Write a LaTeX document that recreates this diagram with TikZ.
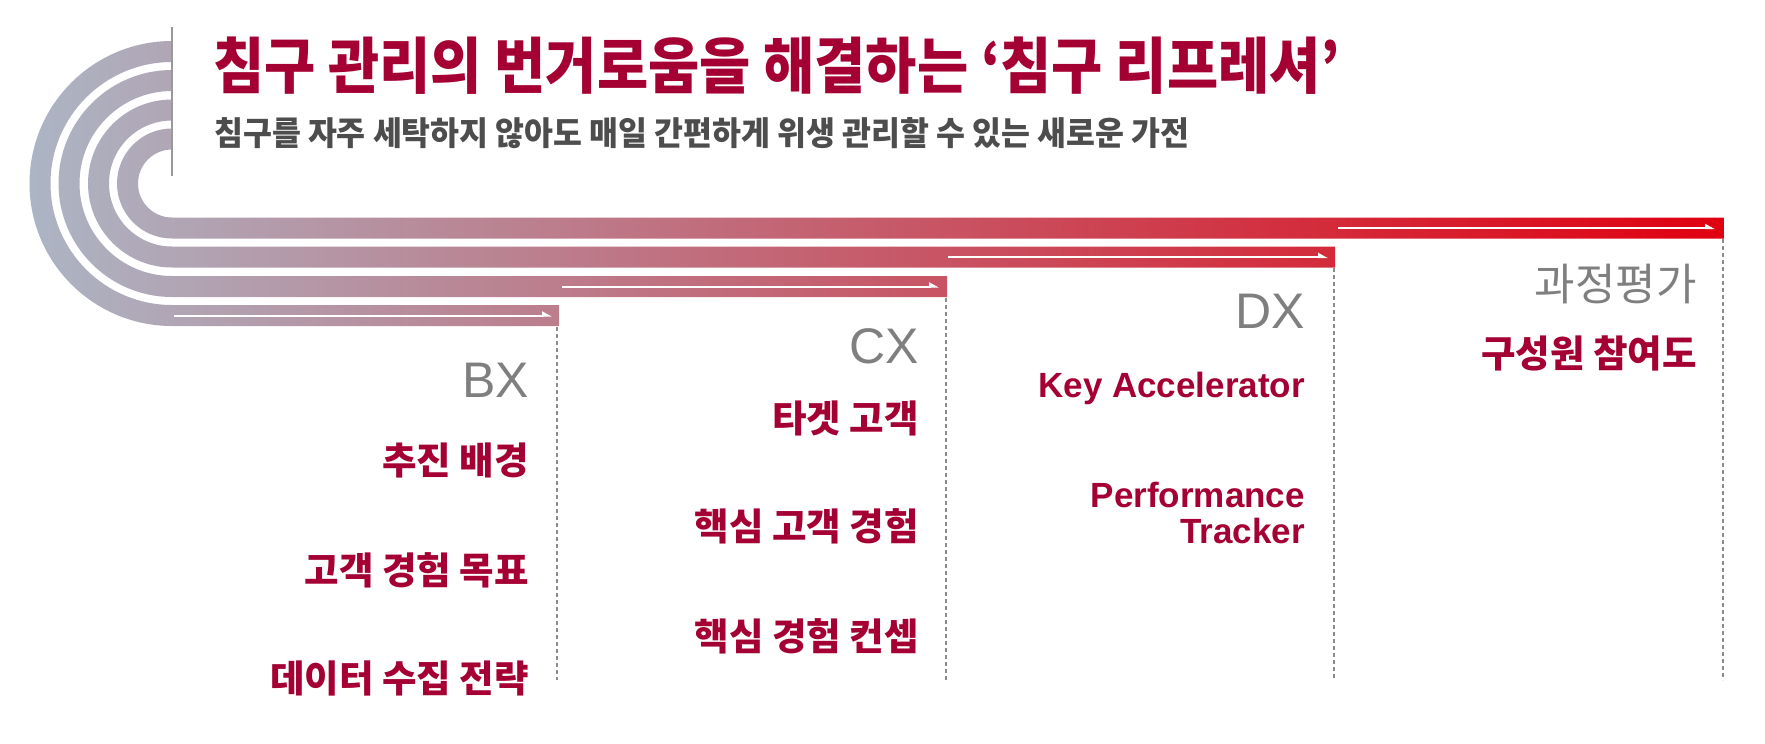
\documentclass[tikz,border=0pt]{standalone}
\usepackage{fontspec}
\usepackage{graphicx}
\usetikzlibrary{arrows.meta}
\newfontfamily\kr{Noto Sans CJK KR}
\newfontfamily\arialf{Liberation Sans}
\definecolor{lgred}{HTML}{A50034}
\definecolor{subgray}{HTML}{4D4D4D}
\definecolor{headgray}{HTML}{7F7F7F}
\definecolor{lineray}{HTML}{999999}
\definecolor{dashgray}{HTML}{8C8C8C}
\definecolor{gL}{RGB}{172,181,196}
\definecolor{gR}{RGB}{224,0,16}
\tikzset{
  ttl/.style={font=\kr\bfseries\fontsize{61}{70}\selectfont, text=lgred, inner sep=0pt, anchor=base west},
  subttl/.style={font=\kr\bfseries\fontsize{33}{38}\selectfont, text=subgray, inner sep=0pt, anchor=base west},
  head/.style={font=\arialf\fontsize{50}{55}\selectfont, text=headgray, inner sep=0pt, anchor=base east},
  khead/.style={font=\kr\fontsize{44}{48}\selectfont, text=headgray, inner sep=0pt, anchor=base east},
  item/.style={font=\kr\bfseries\fontsize{37.5}{40}\selectfont, text=lgred, inner sep=0pt, anchor=base east},
  enitem/.style={font=\arialf\bfseries\fontsize{35}{36}\selectfont, text=lgred, inner sep=0pt, anchor=base east, align=right},
  flow/.style={draw=white, line width=2pt, -{Triangle[left,length=8pt,width=8pt]}},
  guide/.style={draw=dashgray, line width=1.6pt, dash pattern=on 4pt off 3pt},
  vline/.style={draw=lineray, line width=1.5pt}
}
\begin{document}
\begin{tikzpicture}[x=1pt,y=-1pt]
\useasboundingbox (0,0) rectangle (1765,744);
% gradient bands (one path so the gradient spans all of them)
\path[left color=gL, right color=gR]
  (172,41) arc[start angle=270,end angle=90,radius=142.5] -- (559,326) -- (559,305) -- (172,305) arc[start angle=90,end angle=270,radius=121.5] -- cycle
  (172,70) arc[start angle=270,end angle=90,radius=113.5] -- (947,297) -- (947,276) -- (172,276) arc[start angle=90,end angle=270,radius=92.5] -- cycle
  (172,99.5) arc[start angle=270,end angle=90,radius=84] -- (1335,267.5) -- (1335,246.5) -- (172,246.5) arc[start angle=90,end angle=270,radius=63] -- cycle
  (172,128.5) arc[start angle=270,end angle=90,radius=55] -- (1724,238.5) -- (1724,217.5) -- (172,217.5) arc[start angle=90,end angle=270,radius=34] -- cycle;
% vertical line
\coordinate (vtop) at (172,27);
\coordinate (vbot) at (172,176);
\draw[vline] (vtop) -- (vbot);
% arrows in bands
\coordinate (a1s) at (174,315.5); \coordinate (a1e) at (552,315.5);
\coordinate (a2s) at (562,286.5); \coordinate (a2e) at (939,286.5);
\coordinate (a3s) at (948,257); \coordinate (a3e) at (1328,257);
\coordinate (a4s) at (1338,228); \coordinate (a4e) at (1715,228);
\draw[flow] (a1s) -- (a1e);
\draw[flow] (a2s) -- (a2e);
\draw[flow] (a3s) -- (a3e);
\draw[flow] (a4s) -- (a4e);
% dashed guides
\coordinate (g1t) at (557,327); \coordinate (g1b) at (557,680);
\coordinate (g2t) at (946,298); \coordinate (g2b) at (946,680);
\coordinate (g3t) at (1334,268); \coordinate (g3b) at (1334,680);
\coordinate (g4t) at (1723,239); \coordinate (g4b) at (1723,680);
\draw[guide] (g1t) -- (g1b);
\draw[guide] (g2t) -- (g2b);
\draw[guide] (g3t) -- (g3b);
\draw[guide] (g4t) -- (g4b);
% title
\node[ttl] (title) at (213,88) {\resizebox{1127pt}{\height}{침구 관리의 번거로움을 해결하는 ‘침구 리프레셔’}};
\node[subttl] (subtitle) at (214,145.5) {\resizebox{975pt}{\height}{침구를 자주 세탁하지 않아도 매일 간편하게 위생 관리할 수 있는 새로운 가전}};
% BX
\node[head] (bx) at (529,397) {BX};
\node[item] (bx1) at (529,474.5) {추진 배경};
\node[item] (bx2) at (529,584.5) {고객 경험 목표};
\node[item] (bx3) at (529,692.5) {데이터 수집 전략};
% CX
\node[head] (cx) at (919,363) {CX};
\node[item] (cx1) at (919,432.5) {타겟 고객};
\node[item] (cx2) at (919,540.5) {핵심 고객 경험};
\node[item] (cx3) at (919,650.5) {핵심 경험 컨셉};
% DX
\node[head] (dx) at (1305,328) {DX};
\node[enitem] (dx1) at (1305,397) {Key Accelerator};
\node[enitem] (dx2) at (1305,543) {Performance\\Tracker};
% evaluation
\node[khead] (ev) at (1697,300) {과정평가};
\node[item] (ev1) at (1697,367.5) {구성원 참여도};
\end{tikzpicture}
\end{document}
